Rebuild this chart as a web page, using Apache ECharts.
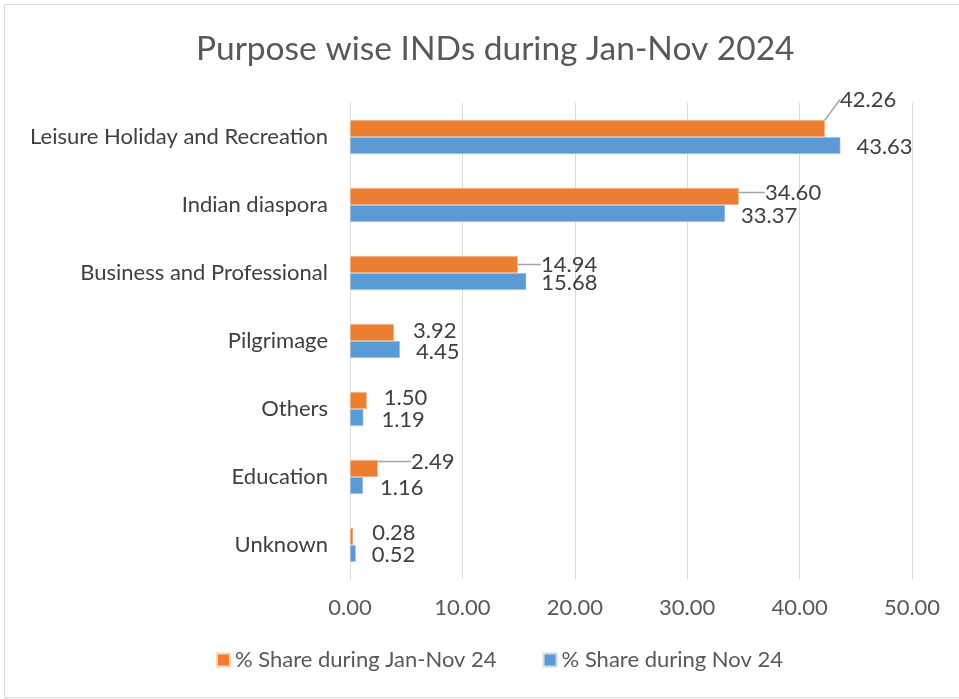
<!DOCTYPE html>
<html>
<head>
<meta charset="utf-8">
<script src="https://cdn.jsdelivr.net/npm/echarts@6/dist/echarts.min.js"></script>
<style>
  html, body { margin: 0; padding: 0; background: #fff; }
  #chart { width: 959px; height: 699px; }
</style>
</head>
<body>
<div id="chart"></div>
<script>
// data
const categories = ['Leisure Holiday and Recreation', 'Indian diaspora', 'Business and Professional',
                    'Pilgrimage', 'Others', 'Education', 'Unknown'];
const shareJanNov = [42.26, 34.60, 14.94, 3.92, 1.50, 2.49, 0.28];
const shareNov    = [43.63, 33.37, 15.68, 4.45, 1.19, 1.16, 0.52];
const xTicks = [0, 10, 20, 30, 40, 50];

// label nudges (px) and which labels got a leader line in the original
const nudgeJanNov = [[10, -29], [21, -4], [18, 0], [14, -2], [12, -3], [28, -7], [14, -4]];
const nudgeNov    = [[11, 1], [11, 2], [10, 1], [11, 2], [13, 2], [12, 2], [11, 1]];
const leaderJanNov = [true, true, true, false, false, true, false];

const FONT = 'Lato, "Open Sans", sans-serif';

const chart = echarts.init(document.getElementById('chart'), null, { renderer: 'canvas' });

function barLabel() {
  return {
    show: true,
    position: 'right',
    distance: 5,
    color: '#404040',
    fontFamily: FONT,
    fontSize: 22,
    formatter: p => p.value.toFixed(2)
  };
}

chart.setOption({
  animation: false,
  title: {
    text: 'Purpose wise INDs during Jan-Nov 2024',
    left: 191,
    top: 27,
    textStyle: { fontFamily: FONT, fontSize: 33.5, fontWeight: 'normal', color: '#595959' }
  },
  graphic: [{
    type: 'rect',
    shape: { x: 4.5, y: 4.5, width: 960, height: 693 },
    style: { fill: 'none', stroke: '#d9d9d9', lineWidth: 1 },
    silent: true
  }],
  legend: {
    bottom: 23,
    left: 211,
    itemGap: 46,
    itemWidth: 13,
    itemHeight: 13,
    icon: 'rect',
    textStyle: { fontFamily: FONT, fontSize: 22, color: '#595959' }
  },
  grid: { left: 350, right: 47, top: 103, bottom: 120 },
  xAxis: {
    type: 'value',
    min: xTicks[0],
    max: xTicks[xTicks.length - 1],
    interval: 10,
    axisLine: { show: false },
    axisTick: { show: false },
    axisLabel: {
      fontFamily: FONT, fontSize: 22, color: '#595959', margin: 18,
      formatter: v => v.toFixed(2)
    },
    splitLine: { lineStyle: { color: '#d9d9d9' } }
  },
  yAxis: {
    type: 'category',
    data: categories,
    inverse: true,
    axisLine: { show: true, lineStyle: { color: '#d9d9d9' } },
    axisTick: { show: false },
    axisLabel: { fontFamily: FONT, fontSize: 22, color: '#404040', margin: 22 }
  },
  series: [
    {
      name: '% Share during Jan-Nov 24',
      type: 'bar',
      data: shareJanNov.map((v, i) => ({ value: v, labelLine: { show: leaderJanNov[i] } })),
      barGap: '0%',
      barCategoryGap: '50%',
      itemStyle: { color: '#ED7D31', borderColor: '#fbd5bb', borderWidth: 0.5 },
      label: barLabel(),
      labelLine: { show: true, lineStyle: { color: '#a6a6a6', width: 1.5 } },
      labelLayout: p => ({ dx: nudgeJanNov[p.dataIndex][0], dy: nudgeJanNov[p.dataIndex][1] })
    },
    {
      name: '% Share during Nov 24',
      type: 'bar',
      data: shareNov,
      barGap: '0%',
      barCategoryGap: '50%',
      itemStyle: { color: '#5B9BD5', borderColor: '#c6dcf0', borderWidth: 0.5 },
      label: barLabel(),
      labelLayout: p => ({ dx: nudgeNov[p.dataIndex][0], dy: nudgeNov[p.dataIndex][1] })
    }
  ]
});
</script>
</body>
</html>
